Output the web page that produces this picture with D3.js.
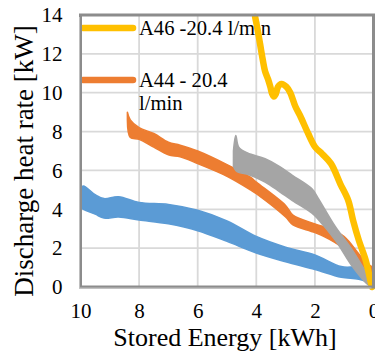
<!DOCTYPE html>
<html>
<head>
<meta charset="utf-8">
<script src="https://cdn.jsdelivr.net/npm/d3@7"></script>
<style>
  html, body { margin: 0; padding: 0; background: #fff; }
  svg { display: block; }
</style>
</head>
<body>
<div id="chart"></div>
<script>
// x ticks are drawn reversed (10 -> 0)
const xTicks = [10, 8, 6, 4, 2, 0];
const yTicks = [0, 2, 4, 6, 8, 10, 12, 14];

// blue band (no legend entry) - upper / lower edge of the noisy trace
const blueX = [10.0, 9.9, 9.5, 9.2, 8.7, 8.0, 7.0, 6.0, 5.0, 4.0, 3.0, 2.0, 1.1, 0.5, 0.0];
const blueHi = [5.1, 5.2, 4.75, 4.55, 4.65, 4.35, 4.25, 3.95, 3.4, 2.6, 2.05, 1.65, 1.05, 1.0, 0.6];
const blueLo = [4.1, 4.0, 3.75, 3.55, 3.6, 3.45, 3.25, 2.9, 2.35, 1.75, 1.3, 0.9, 0.5, 0.4, 0.15];

// A44 - 20.4 l/min (orange)
const a44X = [8.4, 8.3, 8.0, 7.5, 7.0, 6.6, 6.0, 5.0, 4.2, 4.0, 3.0, 2.75, 2.0, 1.5, 1.0, 0.5, 0.25, 0.0];
const a44Hi = [9.0, 8.6, 8.2, 7.9, 7.45, 7.3, 7.0, 6.3, 5.65, 5.4, 4.2, 3.7, 3.25, 3.0, 2.6, 1.7, 1.25, 1.0];
const a44Lo = [8.6, 7.7, 7.6, 7.2, 6.8, 6.7, 6.35, 5.7, 5.0, 4.8, 3.6, 3.2, 2.8, 2.45, 1.95, 1.1, 0.8, 0.6];

// gray band (no legend entry)
const grayX = [4.78, 4.7, 4.6, 4.3, 3.7, 3.2, 2.77, 2.1, 1.9, 1.3, 0.72, 0.17, 0.05];
const grayHi = [7.0, 7.8, 7.2, 6.9, 6.6, 6.2, 5.75, 5.05, 4.6, 3.1, 1.9, 0.55, 0.3];
const grayLo = [6.2, 6.0, 5.9, 5.8, 5.4, 4.9, 4.45, 3.8, 3.5, 2.4, 1.05, 0.1, 0.05];

// A46 -20.4 l/min (yellow)
const a46X = [4.04, 3.95, 3.87, 3.78, 3.7, 3.6, 3.52, 3.46, 3.4, 3.33, 3.26, 3.14, 2.97, 2.84, 2.67, 2.5, 2.23, 1.99, 1.75, 1.45, 1.13, 0.86, 0.7, 0.5, 0.27, 0.1, 0.05];
const a46Y = [13.9, 13.2, 12.5, 11.7, 11.1, 10.7, 10.3, 9.95, 9.8, 9.95, 10.3, 10.45, 10.3, 10.0, 9.3, 8.8, 7.9, 7.2, 6.85, 6.35, 5.3, 4.45, 3.45, 2.4, 1.4, 0.3, 0.0];

const legendLabels = [
  { lines: ['A46 -20.4 l/min'], color: '#ffc000' },
  { lines: ['A44 - 20.4', 'l/min'], color: '#ed7d31' },
];

const width = 375;
const height = 353;
const plot = { left: 80.5, right: 373.5, top: 15, bottom: 287 };
const font = '"Liberation Serif", "Times New Roman", serif';
const gridColor = '#d9d9d9';

const svg = d3.select('#chart')
  .append('svg')
  .attr('width', width)
  .attr('height', height)
  .attr('viewBox', `0 0 ${width} ${height}`)
  .style('background', '#ffffff');

const x = d3.scaleLinear().domain([10, 0]).range([plot.left, plot.right]);
const y = d3.scaleLinear().domain([0, 14]).range([plot.bottom, plot.top]);

/* Grid */
const grid = svg.append('g').attr('class', 'grid');
grid.selectAll('line.gx')
  .data(xTicks.filter((t) => t !== 10 && t !== 0))
  .join('line')
  .attr('x1', (d) => x(d)).attr('x2', (d) => x(d))
  .attr('y1', plot.top).attr('y2', plot.bottom)
  .attr('stroke', gridColor).attr('stroke-width', 1.8);
grid.selectAll('line.gy')
  .data(yTicks.filter((t) => t !== 0 && t !== 14))
  .join('line')
  .attr('x1', plot.left).attr('x2', plot.right)
  .attr('y1', (d) => y(d)).attr('y2', (d) => y(d))
  .attr('stroke', gridColor).attr('stroke-width', 1.8);

/* Tick labels through the axis generators */
const yAxis = svg.append('g')
  .attr('transform', `translate(${plot.left - 16},0)`)
  .call(d3.axisLeft(y).tickValues(yTicks).tickSize(0).tickPadding(2));
yAxis.select('.domain').remove();
yAxis.selectAll('text')
  .attr('font-family', font).attr('font-size', 21).attr('fill', '#000');

const xAxis = svg.append('g')
  .attr('transform', `translate(0,${plot.bottom + 14})`)
  .call(d3.axisBottom(x).tickValues(xTicks).tickSize(0).tickPadding(2));
xAxis.select('.domain').remove();
xAxis.selectAll('text')
  .attr('font-family', font).attr('font-size', 21).attr('fill', '#000');

/* Axis titles */
svg.append('text')
  .attr('x', 225)
  .attr('y', 346)
  .attr('text-anchor', 'middle')
  .attr('font-family', font).attr('font-size', 26).attr('fill', '#000')
  .text('Stored Energy [kWh]');

svg.append('text')
  .attr('transform', 'translate(33,161) rotate(-90)')
  .attr('text-anchor', 'middle')
  .attr('font-family', font).attr('font-size', 27).attr('fill', '#000')
  .text('Discharge heat rate [kW]');

/* Legend (drawn under the traces) */
const legend = svg.append('g').attr('class', 'legend');
legendLabels.forEach((d, i) => {
  const ly = 28 + i * 52;
  legend.append('line')
    .attr('x1', 83).attr('x2', 133)
    .attr('y1', ly).attr('y2', ly)
    .attr('stroke', d.color).attr('stroke-width', 6.5).attr('stroke-linecap', 'round');
  d.lines.forEach((t, j) => {
    legend.append('text')
      .attr('x', 139).attr('y', ly + 7 + j * 23)
      .attr('font-family', font).attr('font-size', 20.6).attr('fill', '#000')
      .text(t);
  });
});

/* Noisy bands as areas */
const band = (xs, hi, lo) => xs.map((v, i) => ({ x: v, hi: hi[i], lo: lo[i] }));
const area = d3.area()
  .x((d) => x(d.x))
  .y0((d) => y(d.lo))
  .y1((d) => y(d.hi))
  .curve(d3.curveCatmullRom.alpha(0.5));

const bands = [
  { data: band(blueX, blueHi, blueLo), color: '#5b9bd5' },
  { data: band(a44X, a44Hi, a44Lo), color: '#ed7d31' },
  { data: band(grayX, grayHi, grayLo), color: '#a5a5a5' },
];
bands.forEach((b) => {
  svg.append('path')
    .datum(b.data)
    .attr('d', area)
    .attr('fill', b.color)
    .attr('stroke', b.color)
    .attr('stroke-width', 1.5)
    .attr('stroke-linejoin', 'round');
});

/* Yellow trace */
const line = d3.line()
  .x((d) => x(d.x))
  .y((d) => y(d.y))
  .curve(d3.curveCatmullRom.alpha(0.5));
svg.append('path')
  .datum(a46X.map((v, i) => ({ x: v, y: a46Y[i] })))
  .attr('d', line)
  .attr('fill', 'none')
  .attr('stroke', '#ffc000')
  .attr('stroke-width', 6.5)
  .attr('stroke-linecap', 'round')
  .attr('stroke-linejoin', 'round');

/* Plot-area frame */
const frame = svg.append('g').attr('class', 'frame');
frame.append('rect')
  .attr('x', plot.left).attr('y', plot.top)
  .attr('width', plot.right - plot.left).attr('height', plot.bottom - plot.top)
  .attr('fill', 'none').attr('stroke', '#8c8c8c').attr('stroke-width', 3);
frame.append('path')
  .attr('d', `M${plot.left - 1},${plot.top + 2}V${plot.bottom + 1}H${plot.right - 2}`)
  .attr('fill', 'none').attr('stroke', '#bfbfbf').attr('stroke-width', 1);
</script>
</body>
</html>
